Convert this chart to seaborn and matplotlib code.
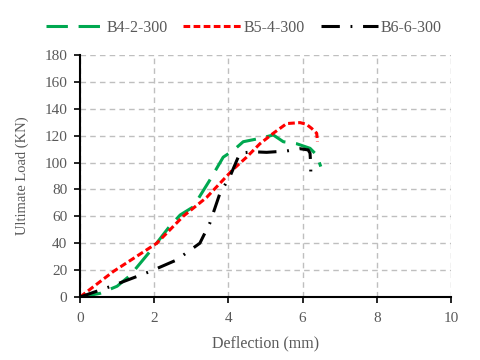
import matplotlib
matplotlib.use("Agg")
import matplotlib.pyplot as plt
import seaborn as sns
import pandas as pd

b4_x = [0, 0.54, 1.0, 1.35, 1.98, 2.4, 2.7, 3.05, 3.5, 3.86, 4.13, 4.4, 4.85, 5.21, 5.48, 5.84, 6.2, 6.38, 6.49]
b4_y = [0, 2.7, 8, 16, 37, 52, 61, 67, 87, 104, 109, 115.5, 118, 120.5, 115.5, 114, 110.6, 105.6, 97]
b5_x = [0, 0.9, 2.07, 2.78, 3.41, 4.13, 4.49, 4.85, 5.21, 5.57, 5.93, 6.1, 6.24, 6.38, 6.4]
b5_y = [0, 19, 40, 60, 74, 95, 104, 114, 121.8, 129, 129.7, 128.5, 125.5, 121.8, 115.5]
b6_x = [0, 0.81, 1.89, 2.6, 3.23, 3.5, 3.77, 4.04, 4.31, 4.67, 5.03, 5.57, 5.93, 6.15, 6.2, 6.22, 6.22]
b6_y = [0, 7.7, 19, 27.5, 40, 55, 77, 89.5, 107, 108, 107.6, 108.6, 110.3, 109.4, 107, 98, 89.5]
labels = ["B4-2-300", "B5-4-300", "B6-6-300"]
x_ticks = [0, 2, 4, 6, 8, 10]
y_ticks = [0, 20, 40, 60, 80, 100, 120, 140, 160, 180]

sns.set_theme(style="white")
plt.rcParams['font.family'] = ['Liberation Serif', 'DejaVu Serif']

fig = plt.figure(figsize=(4.8, 3.6), dpi=100)
ax = fig.add_axes([80/480, 63/360, 371/480, 242/360])

series = [(b4_x, b4_y, "#00A850", (0, (7, 3.5))),
          (b5_x, b5_y, "#FF0000", (0, (2.2, 1.1))),
          (b6_x, b6_y, "#000000", (0, (6, 3.5, 0.6, 3.5)))]
for (xs, ys, c, ls), lab in zip(series, labels):
    df = pd.DataFrame({"x": xs, "y": ys})
    sns.lineplot(data=df, x="x", y="y", sort=False, ax=ax, color=c,
                 linestyle=ls, linewidth=2.2, label=lab, estimator=None)

ax.set_xlim(0, 10)
ax.set_ylim(0, 180)
ax.set_xticks(x_ticks)
ax.set_yticks(y_ticks)
ax.grid(True, color="#BFBFBF", linestyle=(0, (4, 3)), linewidth=1)
for s in ["top", "right"]:
    ax.spines[s].set_visible(False)
for s in ["left", "bottom"]:
    ax.spines[s].set_color("black")
    ax.spines[s].set_linewidth(1.5)
ax.tick_params(axis="both", direction="out", length=4, width=1.2, color="black",
               labelsize=11, labelcolor="#595959", left=True, bottom=True)
ax.tick_params(axis="x", pad=7)
ax.tick_params(axis="y", pad=5)
ax.set_xlabel("Deflection (mm)", fontsize=11.5, color="#595959", labelpad=7)
ax.set_ylabel("Ultimate Load (KN)", fontsize=10.5, color="#595959", labelpad=11)

leg = ax.legend(loc="center", bbox_to_anchor=(0.508, 0.923), bbox_transform=fig.transFigure,
                ncol=3, frameon=False, fontsize=11.5, handlelength=3.6,
                columnspacing=1.0, handletextpad=0.15)
for t in leg.get_texts():
    t.set_color("#595959")

fig.savefig("out.png", dpi=100)
